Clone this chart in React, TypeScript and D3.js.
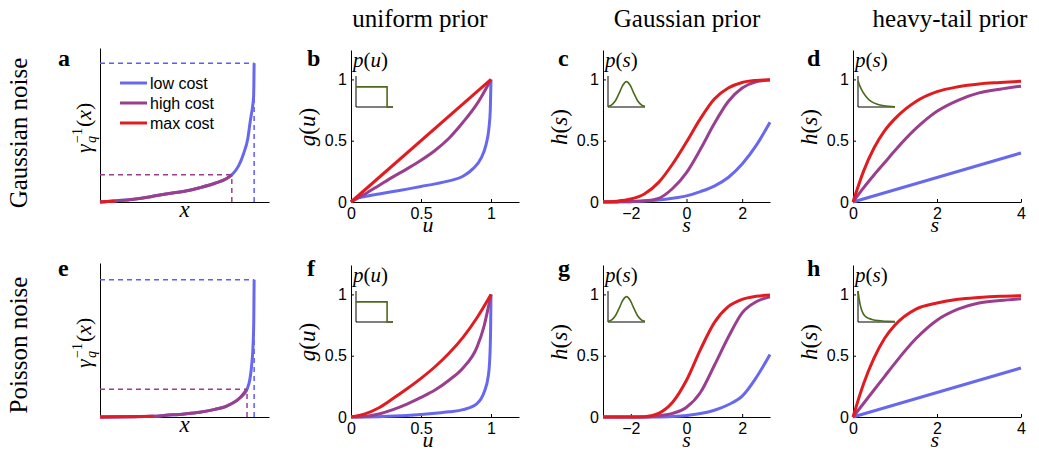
import React, { useEffect, useRef } from "react";
import * as d3 from "d3";

const WIDTH = 1039;
const HEIGHT = 453;
const SERIF = "'Liberation Serif', 'Times New Roman', serif";
const SANS = "'Liberation Sans', Arial, sans-serif";

const colors = { low: "#6868ee", high: "#993f8e", max: "#e11c20" };
const dashBlue = "#5c5cff";
const inkGreen = "#4c6a1c";

const costLabels = ["low cost", "high cost", "max cost"];
const priorTitles = ["uniform prior", "Gaussian prior", "heavy-tail prior"];
const noiseTitles = ["Gaussian noise", "Poisson noise"];
const panelLetters = [
  ["a", "b", "c", "d"],
  ["e", "f", "g", "h"],
];

// panel a / e : gamma_q^{-1}(x), colour switches at the cut points
const aGaussX = [0, 0.09, 0.2, 0.3, 0.39, 0.5, 0.59, 0.68, 0.75, 0.78, 0.82, 0.85, 0.875, 0.89, 0.902, 0.909, 0.912];
const aGaussY = [0, 0.008, 0.02, 0.038, 0.058, 0.078, 0.103, 0.135, 0.17, 0.196, 0.26, 0.35, 0.46, 0.59, 0.68, 0.76, 1.0];
const aGaussCuts = [0.78, 0.09];
const aPoisX = [0, 0.15, 0.315, 0.39, 0.5, 0.59, 0.68, 0.75, 0.83, 0.87, 0.888, 0.898, 0.905, 0.91, 0.912];
const aPoisY = [0, 0.002, 0.005, 0.012, 0.022, 0.034, 0.055, 0.079, 0.14, 0.2, 0.28, 0.38, 0.5, 0.7, 0.99];
const aPoisCuts = [0.87, 0.315];

// uniform prior
const uX = [0, 0.1, 0.2, 0.3, 0.4, 0.5, 0.6, 0.7, 0.8, 0.9, 1];
const uLowX = [0, 0.03, 0.1, 0.2, 0.3, 0.4, 0.5, 0.6, 0.7, 0.8, 0.87, 0.93, 0.965, 0.985, 0.995, 1];
const bLow = [0, 0.025, 0.045, 0.065, 0.085, 0.105, 0.127, 0.148, 0.172, 0.21, 0.27, 0.36, 0.47, 0.6, 0.75, 1];
const bHigh = [0, 0.065, 0.135, 0.205, 0.27, 0.34, 0.42, 0.52, 0.65, 0.8, 1];
const bMaxX = [0, 1];
const bMax = [0, 1];
const fLowX = [0, 0.2, 0.4, 0.5, 0.6, 0.7, 0.8, 0.9, 0.95, 0.98, 0.99, 0.997, 1];
const fLow = [0, 0.003, 0.012, 0.02, 0.03, 0.042, 0.06, 0.11, 0.2, 0.33, 0.45, 0.7, 1];
const fHighX = [0, 0.1, 0.2, 0.3, 0.4, 0.5, 0.6, 0.7, 0.8, 0.9, 0.95, 1];
const fHigh = [0, 0.005, 0.025, 0.06, 0.105, 0.16, 0.22, 0.3, 0.4, 0.57, 0.74, 1];
const fMax = [0, 0.025, 0.075, 0.15, 0.23, 0.315, 0.41, 0.52, 0.65, 0.81, 1];

// Gaussian prior
const sX = [-3, -2.5, -2, -1.5, -1, -0.5, 0, 0.5, 1, 1.5, 2, 2.5, 3];
const cLow = [0, 0.001, 0.003, 0.008, 0.016, 0.03, 0.05, 0.085, 0.13, 0.2, 0.31, 0.46, 0.65];
const cHigh = [0, 0.001, 0.003, 0.01, 0.03, 0.11, 0.24, 0.43, 0.64, 0.82, 0.93, 0.98, 0.995];
const cMax = [0.002, 0.007, 0.024, 0.068, 0.16, 0.31, 0.49, 0.68, 0.84, 0.93, 0.975, 0.992, 0.998];
const gLow = [0, 0, 0, 0, 0, 0.004, 0.012, 0.028, 0.055, 0.1, 0.17, 0.32, 0.51];
const gHigh = [0, 0, 0, 0, 0.01, 0.03, 0.08, 0.2, 0.42, 0.65, 0.85, 0.94, 0.98];
const gMax = [0, 0, 0, 0.003, 0.03, 0.12, 0.3, 0.55, 0.77, 0.9, 0.96, 0.985, 0.995];

// heavy-tail prior
const tX = [0, 0.25, 0.5, 0.75, 1, 1.5, 2, 2.5, 3, 3.5, 4];
const tLinX = [0, 4];
const dLow = [0, 0.4];
const dHigh = [0, 0.115, 0.22, 0.32, 0.42, 0.6, 0.74, 0.83, 0.89, 0.92, 0.945];
const dMax = [0, 0.25, 0.44, 0.58, 0.68, 0.82, 0.9, 0.94, 0.963, 0.975, 0.985];
const hLow = [0, 0.4];
const hHigh = [0, 0.11, 0.22, 0.33, 0.44, 0.64, 0.79, 0.88, 0.93, 0.95, 0.965];
const hMax = [0, 0.27, 0.48, 0.64, 0.75, 0.88, 0.93, 0.96, 0.975, 0.985, 0.99];

// insets p(u), p(s)
const unifPdfX = [0, 0.84, 0.84, 1];
const unifPdfY = [0.65, 0.65, 0, 0];
const gaussPdfX = [0, 0.1, 0.2, 0.3, 0.4, 0.5, 0.6, 0.7, 0.8, 0.9, 1];
const gaussPdfY = [0.02, 0.07, 0.2, 0.44, 0.7, 0.82, 0.7, 0.44, 0.2, 0.07, 0.02];
const expPdfX = [0, 0.05, 0.1, 0.2, 0.3, 0.4, 0.5, 0.7, 1];
const expPdfY = [0.85, 0.68, 0.55, 0.36, 0.23, 0.15, 0.1, 0.04, 0.01];
const heavyPdfX = [0, 0.03, 0.06, 0.1, 0.15, 0.2, 0.3, 0.4, 0.6, 0.8, 1];
const heavyPdfY = [1, 0.75, 0.55, 0.38, 0.25, 0.18, 0.11, 0.07, 0.04, 0.02, 0.015];

const rowBase = [202, 417];
const colLeft = [100, 351, 603, 853];
const colWidth = [169, 168, 167, 168];

const zip = (xs: number[], ys: number[]) => xs.map((x, i) => [x, ys[i]] as [number, number]);
const fmt = (d: any) => String(d).replace("-", "\u2212");

function Fn({ f, v }: { f: string; v: string }) {
  return (
    <>
      <tspan fontStyle="italic">{f}</tspan>(<tspan fontStyle="italic">{v}</tspan>)
    </>
  );
}

function styleAxis(g: any) {
  g.attr("font-size", 16).attr("font-family", SANS);
  g.selectAll("path.domain").attr("stroke", "#000").attr("stroke-width", 1);
  g.selectAll(".tick line").attr("stroke", "#000");
  g.selectAll(".tick text").attr("fill", "#000");
}

function PanelA({ row, xs, ys, cuts }: { row: number; xs: number[]; ys: number[]; cuts: number[] }) {
  const xRef = useRef<SVGGElement>(null);
  const yRef = useRef<SVGGElement>(null);
  const y0 = rowBase[row];
  const left = colLeft[0];
  const x = d3.scaleLinear().domain([0, 1]).range([left, left + colWidth[0]]);
  const y = d3.scaleLinear().domain([0, 1.11]).range([y0, y0 - 154]);

  useEffect(() => {
    d3.select(xRef.current).call(d3.axisBottom(x).tickValues([]).tickSizeOuter(0) as any).call(styleAxis);
    d3.select(yRef.current).call(d3.axisLeft(y).tickValues([]).tickSizeOuter(0) as any).call(styleAxis);
  });

  const pts = zip(xs, ys);
  const line = d3
    .line<[number, number]>()
    .x((d) => x(d[0]))
    .y((d) => y(d[1]))
    .curve(d3.curveMonotoneX);
  const highPts = pts.filter((d) => d[0] <= cuts[0]);
  const maxPts = pts.filter((d) => d[0] <= cuts[1]);
  const last = pts[pts.length - 1];
  const cutPt = highPts[highPts.length - 1];
  const dash = "5 4";

  return (
    <g>
      <g ref={xRef} transform={`translate(0,${y0})`} />
      <g ref={yRef} transform={`translate(${left},0)`} />
      <line x1={x(0)} x2={x(last[0])} y1={y(last[1])} y2={y(last[1])} stroke={dashBlue} strokeWidth={1.5} strokeDasharray={dash} />
      <line x1={x(last[0])} x2={x(last[0])} y1={y(0)} y2={y(last[1])} stroke={dashBlue} strokeWidth={1.5} strokeDasharray={dash} />
      <line x1={x(0)} x2={x(cutPt[0])} y1={y(cutPt[1])} y2={y(cutPt[1])} stroke={colors.high} strokeWidth={1.5} strokeDasharray={dash} />
      <line x1={x(cutPt[0])} x2={x(cutPt[0])} y1={y(0)} y2={y(cutPt[1])} stroke={colors.high} strokeWidth={1.5} strokeDasharray={dash} />
      <path d={line(pts) || ""} fill="none" stroke={colors.low} strokeWidth={3} />
      <path d={line(highPts) || ""} fill="none" stroke={colors.high} strokeWidth={3} />
      <path d={line(maxPts) || ""} fill="none" stroke={colors.max} strokeWidth={3} />
      <text x={x(0.5)} y={y0 + 15} textAnchor="middle" fontFamily={SERIF} fontStyle="italic" fontSize={23}>
        x
      </text>
      <g transform={`translate(${left - 9},${y0 - 76}) rotate(-90)`} fontFamily={SERIF}>
        <text x={-27} y={0} fontSize={22} fontStyle="italic">
          γ
        </text>
        <text x={-17} y={-9} fontSize={14}>
          −1
        </text>
        <text x={-17} y={5} fontSize={14} fontStyle="italic">
          q
        </text>
        <text x={-1} y={0} fontSize={22}>
          (<tspan fontStyle="italic">x</tspan>)
        </text>
      </g>
      {row === 0 &&
        costLabels.map((label, i) => (
          <g key={label}>
            <line x1={120} x2={147} y1={83 + i * 20} y2={83 + i * 20} stroke={[colors.low, colors.high, colors.max][i]} strokeWidth={3} />
            <text x={150} y={88.5 + i * 20} fontFamily={SANS} fontSize={16}>
              {label}
            </text>
          </g>
        ))}
    </g>
  );
}

type Series = { xs: number[]; ys: number[]; color: string };

function Panel({
  row,
  col,
  xDomain,
  xTicks,
  xLabel,
  fname,
  vname,
  series,
  pdfX,
  pdfY,
  pdfLinear,
}: {
  row: number;
  col: number;
  xDomain: number[];
  xTicks: number[];
  xLabel: string;
  fname: string;
  vname: string;
  series: Series[];
  pdfX: number[];
  pdfY: number[];
  pdfLinear?: boolean;
}) {
  const xRef = useRef<SVGGElement>(null);
  const yRef = useRef<SVGGElement>(null);
  const y0 = rowBase[row];
  const left = colLeft[col];
  const x = d3.scaleLinear().domain(xDomain).range([left, left + colWidth[col]]);
  const y = d3.scaleLinear().domain([0, 1.24]).range([y0, y0 - 152]);

  useEffect(() => {
    d3.select(xRef.current)
      .call(d3.axisBottom(x).tickValues(xTicks).tickFormat(fmt).tickSizeInner(-3).tickSizeOuter(0).tickPadding(6) as any)
      .call(styleAxis);
    d3.select(yRef.current)
      .call(d3.axisLeft(y).tickValues([0, 0.5, 1]).tickFormat(fmt).tickSizeInner(-3).tickSizeOuter(0).tickPadding(4) as any)
      .call(styleAxis);
  });

  const line = d3
    .line<[number, number]>()
    .x((d) => x(d[0]))
    .y((d) => y(d[1]))
    .curve(d3.curveMonotoneX);

  // inset
  const ix = d3.scaleLinear().domain([0, 1]).range([left + 5, left + 42]);
  const iy = d3.scaleLinear().domain([0, 1]).range([y0 - 95, y0 - 126]);
  const pdfLine = d3
    .line<[number, number]>()
    .x((d) => ix(d[0]))
    .y((d) => iy(d[1]))
    .curve(pdfLinear ? d3.curveLinear : d3.curveMonotoneX);

  const labelX = col === 1 ? x(0.55) : x((xDomain[0] + xDomain[1]) / 2 - (col === 2 ? 0 : 0.05));

  return (
    <g>
      <g ref={xRef} transform={`translate(0,${y0})`} />
      <g ref={yRef} transform={`translate(${left},0)`} />
      {series.map((s, i) => (
        <path key={i} d={line(zip(s.xs, s.ys)) || ""} fill="none" stroke={s.color} strokeWidth={3} />
      ))}
      <line x1={ix(0)} x2={ix(0)} y1={iy(0)} y2={iy(1)} stroke="#000" strokeWidth={1} />
      <line x1={ix(0)} x2={ix(1)} y1={iy(0)} y2={iy(0)} stroke="#000" strokeWidth={1} />
      <path d={pdfLine(zip(pdfX, pdfY)) || ""} fill="none" stroke={inkGreen} strokeWidth={1.6} />
      <text x={left + 2} y={y0 - 135} fontFamily={SERIF} fontSize={21}>
        <Fn f="p" v={vname} />
      </text>
      <text
        transform={`translate(${left - 36},${y0 - 75}) rotate(-90)`}
        textAnchor="middle"
        fontFamily={SERIF}
        fontSize={23}
      >
        <Fn f={fname} v={vname} />
      </text>
      <text x={labelX} y={y0 + 30} textAnchor="middle" fontFamily={SERIF} fontStyle="italic" fontSize={22}>
        {xLabel}
      </text>
    </g>
  );
}

export default function App() {
  const letterX = [58, 307, 558, 807];
  const letterY = [66, 276];
  return (
    <svg width={WIDTH} height={HEIGHT} style={{ position: "absolute", left: 0, top: 0, background: "#fff" }}>
      {priorTitles.map((t, i) => (
        <text key={t} x={[420, 687, 950][i]} y={27} textAnchor="middle" fontFamily={SERIF} fontSize={25}>
          {t}
        </text>
      ))}
      {noiseTitles.map((t, i) => (
        <text key={t} transform={`translate(27,${[133, 345][i]}) rotate(-90)`} textAnchor="middle" fontFamily={SERIF} fontSize={25}>
          {t}
        </text>
      ))}
      {panelLetters.map((r, ri) =>
        r.map((l, ci) => (
          <text key={l} x={letterX[ci]} y={letterY[ri]} fontFamily={SERIF} fontWeight="bold" fontSize={24}>
            {l}
          </text>
        ))
      )}

      <PanelA row={0} xs={aGaussX} ys={aGaussY} cuts={aGaussCuts} />
      <PanelA row={1} xs={aPoisX} ys={aPoisY} cuts={aPoisCuts} />

      <Panel
        row={0}
        col={1}
        xDomain={[0, 1.2]}
        xTicks={[0, 0.5, 1]}
        xLabel="u"
        fname="g"
        vname="u"
        pdfX={unifPdfX}
        pdfY={unifPdfY}
        pdfLinear
        series={[
          { xs: uLowX, ys: bLow, color: colors.low },
          { xs: uX, ys: bHigh, color: colors.high },
          { xs: bMaxX, ys: bMax, color: colors.max },
        ]}
      />
      <Panel
        row={1}
        col={1}
        xDomain={[0, 1.2]}
        xTicks={[0, 0.5, 1]}
        xLabel="u"
        fname="g"
        vname="u"
        pdfX={unifPdfX}
        pdfY={unifPdfY}
        pdfLinear
        series={[
          { xs: fLowX, ys: fLow, color: colors.low },
          { xs: fHighX, ys: fHigh, color: colors.high },
          { xs: uX, ys: fMax, color: colors.max },
        ]}
      />
      <Panel
        row={0}
        col={2}
        xDomain={[-3, 3]}
        xTicks={[-2, 0, 2]}
        xLabel="s"
        fname="h"
        vname="s"
        pdfX={gaussPdfX}
        pdfY={gaussPdfY}
        series={[
          { xs: sX, ys: cLow, color: colors.low },
          { xs: sX, ys: cHigh, color: colors.high },
          { xs: sX, ys: cMax, color: colors.max },
        ]}
      />
      <Panel
        row={1}
        col={2}
        xDomain={[-3, 3]}
        xTicks={[-2, 0, 2]}
        xLabel="s"
        fname="h"
        vname="s"
        pdfX={gaussPdfX}
        pdfY={gaussPdfY}
        series={[
          { xs: sX, ys: gLow, color: colors.low },
          { xs: sX, ys: gHigh, color: colors.high },
          { xs: sX, ys: gMax, color: colors.max },
        ]}
      />
      <Panel
        row={0}
        col={3}
        xDomain={[0, 4]}
        xTicks={[0, 2, 4]}
        xLabel="s"
        fname="h"
        vname="s"
        pdfX={expPdfX}
        pdfY={expPdfY}
        series={[
          { xs: tLinX, ys: dLow, color: colors.low },
          { xs: tX, ys: dHigh, color: colors.high },
          { xs: tX, ys: dMax, color: colors.max },
        ]}
      />
      <Panel
        row={1}
        col={3}
        xDomain={[0, 4]}
        xTicks={[0, 2, 4]}
        xLabel="s"
        fname="h"
        vname="s"
        pdfX={heavyPdfX}
        pdfY={heavyPdfY}
        series={[
          { xs: tLinX, ys: hLow, color: colors.low },
          { xs: tX, ys: hHigh, color: colors.high },
          { xs: tX, ys: hMax, color: colors.max },
        ]}
      />
    </svg>
  );
}
